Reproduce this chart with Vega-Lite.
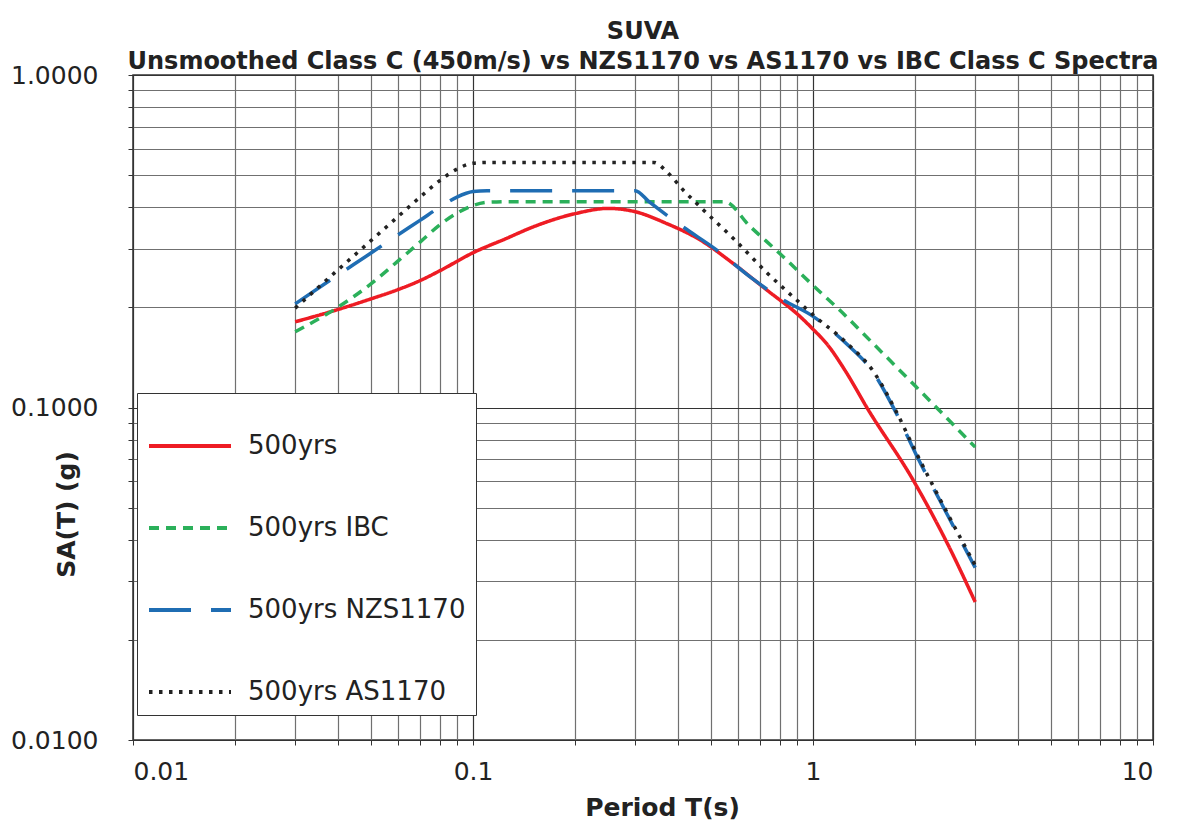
{
  "$schema": "https://vega.github.io/schema/vega-lite/v6.json",
  "width": 1020,
  "height": 665,
  "autosize": {"type": "none"},
  "padding": {"left": 133, "top": 75, "right": 31, "bottom": 85},
  "background": "white",
  "title": {
    "text": ["SUVA", "Unsmoothed Class C (450m/s) vs NZS1170 vs AS1170 vs IBC Class C Spectra"],
    "font": "DejaVu Sans",
    "fontWeight": "bold",
    "fontSize": 24,
    "lineHeight": 30,
    "anchor": "middle",
    "offset": -11,
    "color": "#222222"
  },
  "config": {
    "view": {"stroke": "#333333", "strokeWidth": 1.5},
    "axis": {
      "grid": true,
      "gridWidth": 1.2,
      "gridOpacity": 1,
      "domain": false,
      "ticks": true,
      "tickSize": 5,
      "tickColor": "#333333",
      "labelFont": "DejaVu Sans",
      "labelFontSize": 25,
      "labelColor": "#222222",
      "labelOverlap": false,
      "titleFont": "DejaVu Sans",
      "titleFontWeight": "bold",
      "titleFontSize": 25,
      "titleColor": "#222222"
    }
  },
  "data": {
    "values": [
      {"series": "500yrs", "T": 0.03, "SA": 0.181},
      {"series": "500yrs", "T": 0.04, "SA": 0.197},
      {"series": "500yrs", "T": 0.05, "SA": 0.212},
      {"series": "500yrs", "T": 0.06, "SA": 0.226},
      {"series": "500yrs", "T": 0.07, "SA": 0.241},
      {"series": "500yrs", "T": 0.08, "SA": 0.258},
      {"series": "500yrs", "T": 0.1, "SA": 0.292},
      {"series": "500yrs", "T": 0.125, "SA": 0.322},
      {"series": "500yrs", "T": 0.15, "SA": 0.349},
      {"series": "500yrs", "T": 0.2, "SA": 0.383},
      {"series": "500yrs", "T": 0.25, "SA": 0.397},
      {"series": "500yrs", "T": 0.3, "SA": 0.388},
      {"series": "500yrs", "T": 0.37, "SA": 0.358},
      {"series": "500yrs", "T": 0.466, "SA": 0.319},
      {"series": "500yrs", "T": 0.58, "SA": 0.272},
      {"series": "500yrs", "T": 0.73, "SA": 0.226},
      {"series": "500yrs", "T": 0.92, "SA": 0.187},
      {"series": "500yrs", "T": 1.0, "SA": 0.172},
      {"series": "500yrs", "T": 1.1, "SA": 0.155},
      {"series": "500yrs", "T": 1.25, "SA": 0.128},
      {"series": "500yrs", "T": 1.44, "SA": 0.1},
      {"series": "500yrs", "T": 1.97, "SA": 0.0605},
      {"series": "500yrs", "T": 2.5, "SA": 0.0385},
      {"series": "500yrs", "T": 3.0, "SA": 0.026},

      {"series": "500yrs IBC", "T": 0.03, "SA": 0.169},
      {"series": "500yrs IBC", "T": 0.04, "SA": 0.2},
      {"series": "500yrs IBC", "T": 0.05, "SA": 0.235},
      {"series": "500yrs IBC", "T": 0.06, "SA": 0.275},
      {"series": "500yrs IBC", "T": 0.07, "SA": 0.315},
      {"series": "500yrs IBC", "T": 0.08, "SA": 0.355},
      {"series": "500yrs IBC", "T": 0.09, "SA": 0.385},
      {"series": "500yrs IBC", "T": 0.1, "SA": 0.405},
      {"series": "500yrs IBC", "T": 0.11, "SA": 0.414},
      {"series": "500yrs IBC", "T": 0.13, "SA": 0.416},
      {"series": "500yrs IBC", "T": 0.55, "SA": 0.416},
      {"series": "500yrs IBC", "T": 0.65, "SA": 0.352},
      {"series": "500yrs IBC", "T": 0.8, "SA": 0.29},
      {"series": "500yrs IBC", "T": 1.0, "SA": 0.233},
      {"series": "500yrs IBC", "T": 1.2, "SA": 0.196},
      {"series": "500yrs IBC", "T": 1.5, "SA": 0.156},
      {"series": "500yrs IBC", "T": 2.0, "SA": 0.116},
      {"series": "500yrs IBC", "T": 3.0, "SA": 0.076},

      {"series": "500yrs NZS1170", "T": 0.03, "SA": 0.205},
      {"series": "500yrs NZS1170", "T": 0.04, "SA": 0.25},
      {"series": "500yrs NZS1170", "T": 0.05, "SA": 0.291},
      {"series": "500yrs NZS1170", "T": 0.06, "SA": 0.33},
      {"series": "500yrs NZS1170", "T": 0.07, "SA": 0.366},
      {"series": "500yrs NZS1170", "T": 0.08, "SA": 0.401},
      {"series": "500yrs NZS1170", "T": 0.09, "SA": 0.43},
      {"series": "500yrs NZS1170", "T": 0.1, "SA": 0.446},
      {"series": "500yrs NZS1170", "T": 0.11, "SA": 0.449},
      {"series": "500yrs NZS1170", "T": 0.3, "SA": 0.449},
      {"series": "500yrs NZS1170", "T": 0.33, "SA": 0.415},
      {"series": "500yrs NZS1170", "T": 0.415, "SA": 0.349},
      {"series": "500yrs NZS1170", "T": 0.52, "SA": 0.298},
      {"series": "500yrs NZS1170", "T": 0.653, "SA": 0.247},
      {"series": "500yrs NZS1170", "T": 0.815, "SA": 0.211},
      {"series": "500yrs NZS1170", "T": 1.0, "SA": 0.188},
      {"series": "500yrs NZS1170", "T": 1.25, "SA": 0.156},
      {"series": "500yrs NZS1170", "T": 1.5, "SA": 0.128},
      {"series": "500yrs NZS1170", "T": 1.75, "SA": 0.097},
      {"series": "500yrs NZS1170", "T": 2.0, "SA": 0.073},
      {"series": "500yrs NZS1170", "T": 2.5, "SA": 0.047},
      {"series": "500yrs NZS1170", "T": 3.0, "SA": 0.033},

      {"series": "500yrs AS1170", "T": 0.03, "SA": 0.199},
      {"series": "500yrs AS1170", "T": 0.04, "SA": 0.259},
      {"series": "500yrs AS1170", "T": 0.05, "SA": 0.317},
      {"series": "500yrs AS1170", "T": 0.06, "SA": 0.374},
      {"series": "500yrs AS1170", "T": 0.07, "SA": 0.43},
      {"series": "500yrs AS1170", "T": 0.08, "SA": 0.482},
      {"series": "500yrs AS1170", "T": 0.09, "SA": 0.522},
      {"series": "500yrs AS1170", "T": 0.1, "SA": 0.543},
      {"series": "500yrs AS1170", "T": 0.11, "SA": 0.546},
      {"series": "500yrs AS1170", "T": 0.34, "SA": 0.546},
      {"series": "500yrs AS1170", "T": 0.372, "SA": 0.511},
      {"series": "500yrs AS1170", "T": 0.415, "SA": 0.451},
      {"series": "500yrs AS1170", "T": 0.466, "SA": 0.401},
      {"series": "500yrs AS1170", "T": 0.582, "SA": 0.323},
      {"series": "500yrs AS1170", "T": 0.733, "SA": 0.254},
      {"series": "500yrs AS1170", "T": 0.916, "SA": 0.206},
      {"series": "500yrs AS1170", "T": 1.0, "SA": 0.19},
      {"series": "500yrs AS1170", "T": 1.25, "SA": 0.157},
      {"series": "500yrs AS1170", "T": 1.5, "SA": 0.129},
      {"series": "500yrs AS1170", "T": 1.75, "SA": 0.098},
      {"series": "500yrs AS1170", "T": 2.0, "SA": 0.074},
      {"series": "500yrs AS1170", "T": 2.5, "SA": 0.0475},
      {"series": "500yrs AS1170", "T": 3.0, "SA": 0.0335}
    ]
  },
  "mark": {"type": "line", "strokeWidth": 3.5, "interpolate": "monotone", "clip": true},
  "encoding": {
    "x": {
      "field": "T",
      "type": "quantitative",
      "title": "Period T(s)",
      "scale": {"type": "log", "domain": [0.01, 10], "nice": false},
      "axis": {
        "values": [0.01, 0.02, 0.03, 0.04, 0.05, 0.06, 0.07, 0.08, 0.09, 0.1, 0.2, 0.3, 0.4, 0.5, 0.6, 0.7, 0.8, 0.9, 1, 2, 3, 4, 5, 6, 7, 8, 9, 10],
        "format": "~g",
        "labelExpr": "indexof(['0.01','0.1','1','10'], datum.label) >= 0 ? datum.label : ''",
        "labelPadding": 14,
        "titleBaseline": "middle",
        "titleX": 529,
        "titleY": 67,
        "gridColor": {"condition": {"test": "indexof([0.01,0.1,1,10], datum.value) >= 0", "value": "#333333"}, "value": "#707070"}
      }
    },
    "y": {
      "field": "SA",
      "type": "quantitative",
      "title": "SA(T) (g)",
      "scale": {"type": "log", "domain": [0.01, 1], "nice": false},
      "axis": {
        "values": [0.01, 0.02, 0.03, 0.04, 0.05, 0.06, 0.07, 0.08, 0.09, 0.1, 0.2, 0.3, 0.4, 0.5, 0.6, 0.7, 0.8, 0.9, 1],
        "format": ".4f",
        "labelExpr": "indexof(['0.0100','0.1000','1.0000'], datum.label) >= 0 ? datum.label : ''",
        "labelPadding": 30,
        "titleAngle": -90,
        "titleBaseline": "middle",
        "titleX": -67,
        "titleY": 439,
        "gridColor": {"condition": {"test": "indexof([0.01,0.1,1], datum.value) >= 0", "value": "#333333"}, "value": "#707070"}
      }
    },
    "color": {
      "field": "series",
      "type": "nominal",
      "scale": {
        "domain": ["500yrs", "500yrs IBC", "500yrs NZS1170", "500yrs AS1170"],
        "range": ["#ee1c24", "#2bb05a", "#1f6db3", "#222222"]
      },
      "legend": {
        "title": null,
        "orient": "none",
        "legendX": 4,
        "legendY": 318,
        "fillColor": "white",
        "strokeColor": "#333333",
        "padding": 10,
        "symbolType": "stroke",
        "symbolSize": 6724,
        "symbolStrokeWidth": 4,
        "labelFont": "DejaVu Sans",
        "labelFontSize": 26,
        "labelColor": "#222222",
        "labelOffset": 15,
        "rowPadding": 26,
        "labelLimit": 400
      }
    },
    "strokeDash": {
      "field": "series",
      "type": "nominal",
      "scale": {
        "domain": ["500yrs", "500yrs IBC", "500yrs NZS1170", "500yrs AS1170"],
        "range": [[1, 0], [10, 7], [42, 20], [3.5, 6.5]]
      },
      "legend": null
    }
  }
}
